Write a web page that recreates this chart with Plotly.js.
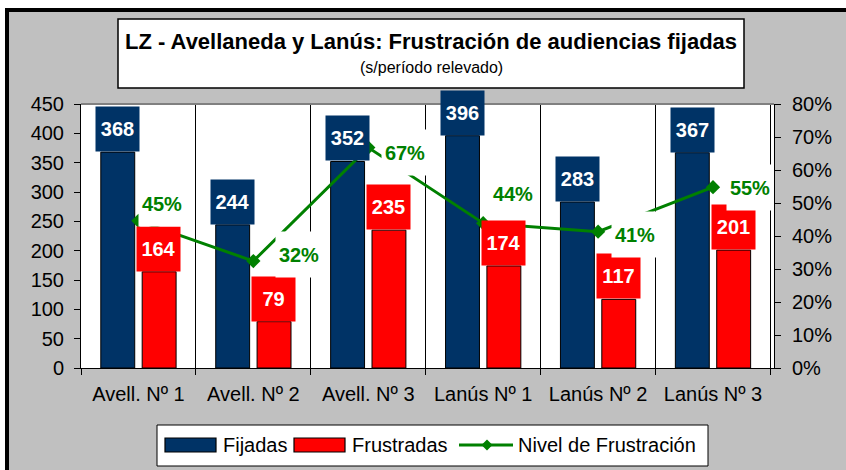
<!DOCTYPE html>
<html>
<head>
<meta charset="utf-8">
<script src="https://cdn.plot.ly/plotly-3.0.1.min.js"></script>
<style>
  html, body { margin: 0; padding: 0; background: #ffffff; overflow: hidden; }
  #chart { width: 846px; height: 470px; }
</style>
</head>
<body>
<div id="chart"></div>
<script>
// ---- data ----
const categories = ['Avell. Nº 1', 'Avell. Nº 2', 'Avell. Nº 3', 'Lanús Nº 1', 'Lanús Nº 2', 'Lanús Nº 3'];
const fijadas    = [368, 244, 352, 396, 283, 367];
const frustradas = [164, 79, 235, 174, 117, 201];
const nivel      = [0.446, 0.324, 0.668, 0.439, 0.413, 0.548];
const seriesNames = ['Fijadas', 'Frustradas', 'Nivel de Frustración'];
const titleText = 'LZ - Avellaneda y Lanús: Frustración de audiencias fijadas';
const subtitleText = '(s/período relevado)';

// ---- styles ----
const FONT = 'Liberation Sans, Arial, Helvetica, sans-serif';
const NAVY = '#003366', RED = '#FF0000', GREEN = '#008000', GRAY = '#C0C0C0';
// label offsets (px) for the percentage labels, relative to each point
const pctShift = [[24, 17], [46, 7], [37, -5], [30, 30], [37, -3], [37, 0]];

// plot area geometry helpers (pixel -> paper)
const L = 81, R = 72, T = 104, B = 102, W = 846, H = 470;
const PW = W - L - R, PH = H - T - B;
const px = v => (v - L) / PW;
const py = v => (H - B - v) / PH;

const traces = [
  { type: 'bar', name: seriesNames[0], x: categories, y: fijadas,
    marker: { color: NAVY, line: { color: '#000', width: 1 } }, hoverinfo: 'skip' },
  { type: 'bar', name: seriesNames[1], x: categories, y: frustradas,
    marker: { color: RED, line: { color: '#000', width: 1 } }, hoverinfo: 'skip' },
  { type: 'scatter', mode: 'lines+markers', name: seriesNames[2], x: categories, y: nivel, yaxis: 'y2',
    line: { color: GREEN, width: 3 }, marker: { symbol: 'diamond', size: 11, color: GREEN }, hoverinfo: 'skip' }
];

const annotations = [];
fijadas.forEach((v, i) => annotations.push({
  x: categories[i], y: v, xref: 'x', yref: 'y', xanchor: 'center', yanchor: 'bottom',
  xshift: -21, showarrow: false, text: '<b>' + v + '</b>',
  font: { family: FONT, size: 20, color: '#fff' }, bgcolor: NAVY, width: 43, height: 44, borderpad: 0
}));
frustradas.forEach((v, i) => annotations.push({
  x: categories[i], y: v, xref: 'x', yref: 'y', xanchor: 'center', yanchor: 'bottom',
  xshift: 20, showarrow: false, text: '<b>' + v + '</b>',
  font: { family: FONT, size: 20, color: '#fff' }, bgcolor: RED, width: 43, height: 44, borderpad: 0
}));
nivel.forEach((v, i) => annotations.push({
  x: categories[i], y: v, xref: 'x', yref: 'y2', xanchor: 'center', yanchor: 'middle',
  xshift: pctShift[i][0], yshift: pctShift[i][1], showarrow: false,
  text: '<b>' + Math.round(v * 100) + '%</b>',
  font: { family: FONT, size: 20, color: GREEN }, bgcolor: '#fff', width: 46, height: 45, borderpad: 0
}));
// subtitle
annotations.push({ xref: 'paper', yref: 'paper', x: px(431), y: py(67), xanchor: 'center', yanchor: 'middle',
  showarrow: false, text: subtitleText, font: { family: FONT, size: 16, color: '#000' } });
// custom legend texts
const legTextX = [222, 351, 517];
seriesNames.forEach((n, i) => annotations.push({ xref: 'paper', yref: 'paper', x: px(legTextX[i]), y: py(445),
  xanchor: 'left', yanchor: 'middle', showarrow: false, text: n, borderpad: 0,
  font: { family: FONT, size: 20, color: '#000' } }));

const dx = 5.5 / PW, dy = 5.5 / PH;
const mx = px(487), my = py(445);
const shapes = [
  // outer frame: white margins + black border at top and left
  { type: 'rect', xref: 'paper', yref: 'paper', x0: px(-10), x1: px(900), y0: py(8), y1: py(-10), fillcolor: '#fff', line: { width: 0 }, layer: 'above' },
  { type: 'rect', xref: 'paper', yref: 'paper', x0: px(-10), x1: px(5), y0: py(480), y1: py(-10), fillcolor: '#fff', line: { width: 0 }, layer: 'above' },
  { type: 'rect', xref: 'paper', yref: 'paper', x0: px(5), x1: px(900), y0: py(12), y1: py(8), fillcolor: '#000', line: { width: 0 }, layer: 'above' },
  { type: 'rect', xref: 'paper', yref: 'paper', x0: px(5), x1: px(9), y0: py(480), y1: py(8), fillcolor: '#000', line: { width: 0 }, layer: 'above' },
  // title box
  { type: 'rect', xref: 'paper', yref: 'paper', x0: px(118), x1: px(744), y0: py(88), y1: py(19), fillcolor: '#fff', line: { color: '#000', width: 1.5 }, layer: 'below' },
  // plot area top border
  { type: 'line', xref: 'paper', yref: 'paper', x0: 0, x1: 1, y0: 1, y1: 1, line: { color: '#808080', width: 2 } },
  // legend box
  { type: 'rect', xref: 'paper', yref: 'paper', x0: px(157), x1: px(708), y0: py(466), y1: py(425), fillcolor: '#fff', line: { color: '#000', width: 1 } },
  { type: 'rect', xref: 'paper', yref: 'paper', x0: px(165), x1: px(216), y0: py(452), y1: py(438), fillcolor: NAVY, line: { color: '#000', width: 1.2 } },
  { type: 'rect', xref: 'paper', yref: 'paper', x0: px(294), x1: px(345), y0: py(452), y1: py(438), fillcolor: RED, line: { color: '#000', width: 1.2 } },
  { type: 'line', xref: 'paper', yref: 'paper', x0: px(459), x1: px(513), y0: my, y1: my, line: { color: GREEN, width: 3 } },
  { type: 'path', xref: 'paper', yref: 'paper', fillcolor: GREEN, line: { color: GREEN, width: 0 },
    path: `M ${mx - dx} ${my} L ${mx} ${my + dy} L ${mx + dx} ${my} L ${mx} ${my - dy} Z` }
];

const layout = {
  width: W, height: H,
  margin: { l: L, r: R, t: T, b: B, pad: 0 },
  paper_bgcolor: GRAY, plot_bgcolor: '#fff',
  font: { family: FONT, size: 20, color: '#000' },
  title: { text: '<b>' + titleText + '</b>', x: 431 / W, xanchor: 'center', xref: 'container',
           y: 1 - 41 / H, yanchor: 'middle', yref: 'container', font: { family: FONT, size: 22, color: '#000' } },
  barmode: 'group', bargap: 0.28, bargroupgap: 0.18,
  showlegend: false,
  xaxis: { type: 'category', tickson: 'boundaries', ticks: 'outside', ticklen: 6, tickcolor: '#000',
           showgrid: true, gridcolor: '#000', gridwidth: 1, showline: true, linecolor: '#000', linewidth: 1,
           tickfont: { family: FONT, size: 20, color: '#000' }, ticklabelstandoff: 8, fixedrange: true },
  yaxis: { range: [0, 450], dtick: 50, tick0: 0, ticks: 'outside', ticklen: 6, tickcolor: '#000',
           showgrid: false, zeroline: false, showline: true, linecolor: '#000', linewidth: 1,
           tickfont: { family: FONT, size: 20, color: '#000' }, ticklabelstandoff: 6, fixedrange: true },
  yaxis2: { overlaying: 'y', side: 'right', range: [0, 0.8], dtick: 0.1, tick0: 0, tickformat: '.0%',
            ticks: 'outside', ticklen: 6, tickcolor: '#000', showgrid: false, zeroline: false,
            showline: true, linecolor: '#000', linewidth: 1,
            tickfont: { family: FONT, size: 20, color: '#000' }, ticklabelstandoff: 7, fixedrange: true },
  annotations: annotations,
  shapes: shapes
};

Plotly.newPlot('chart', traces, layout, { staticPlot: true, displayModeBar: false });
</script>
</body>
</html>
